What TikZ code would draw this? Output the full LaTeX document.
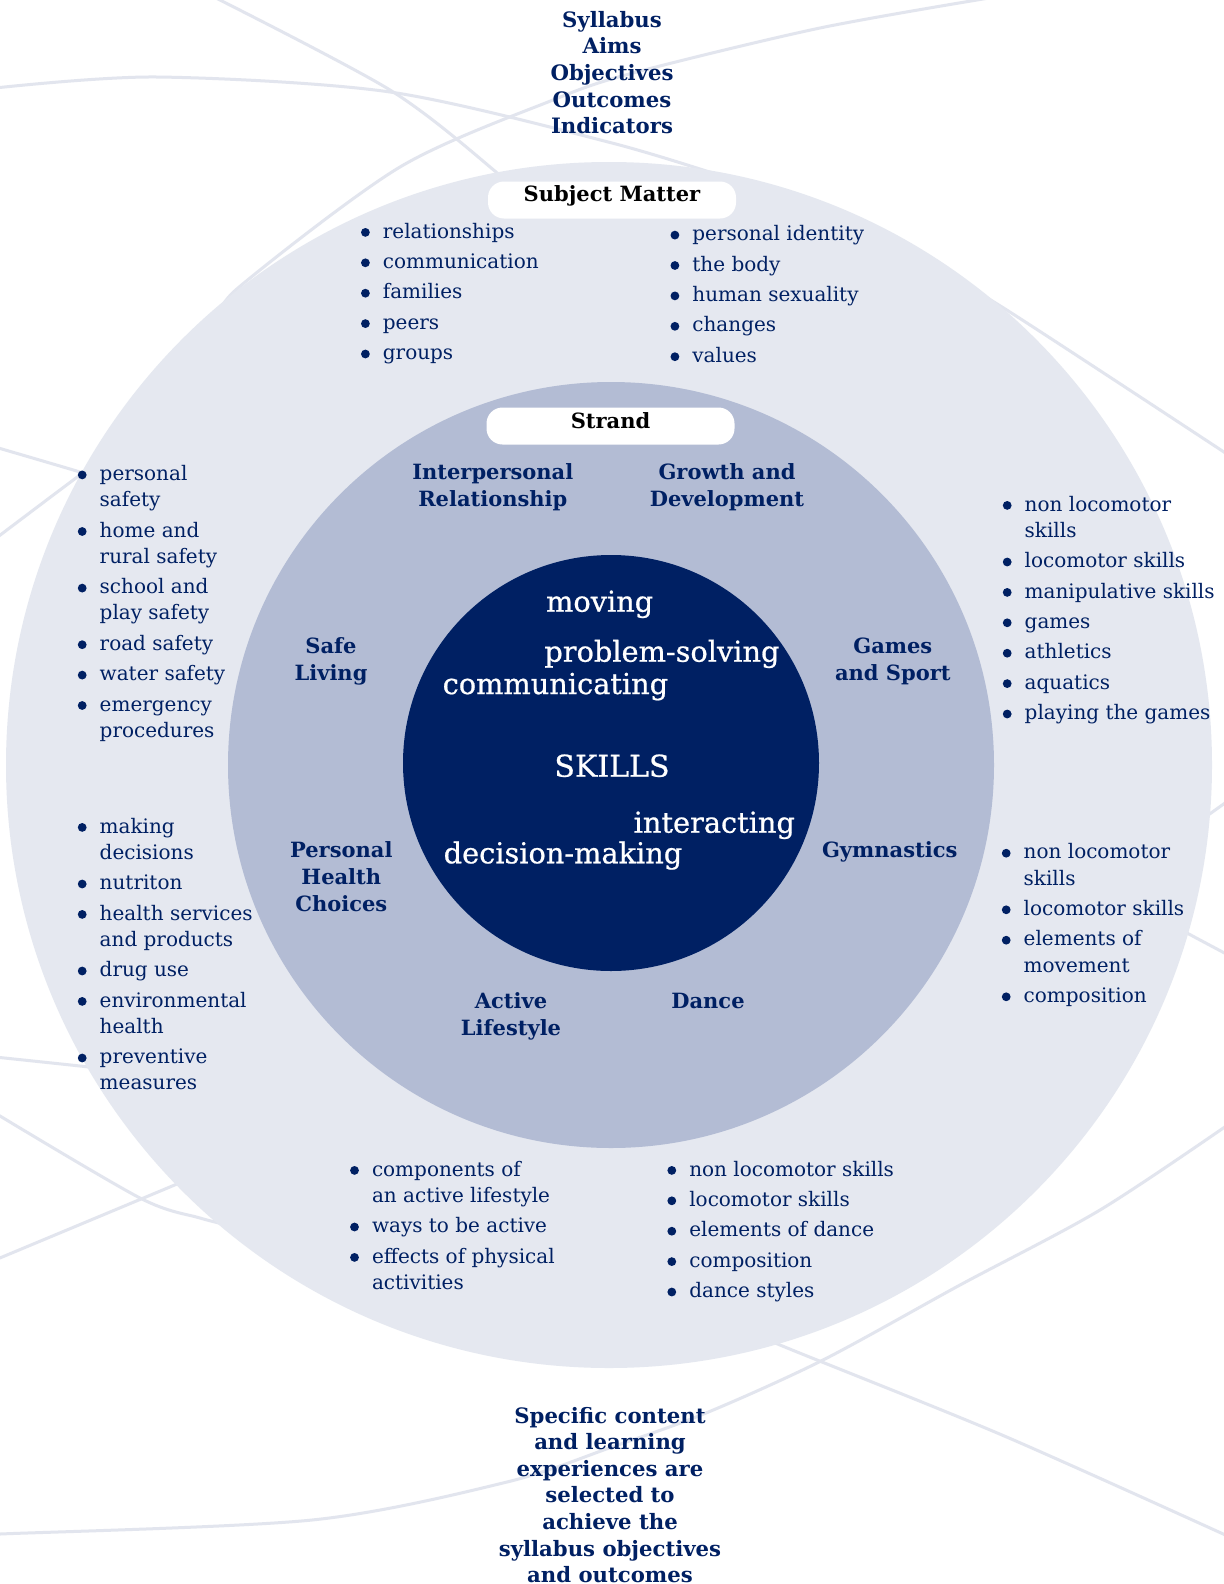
\documentclass[tikz,border=0pt]{standalone}
\usepackage{fontspec}
\setmainfont{DejaVu Serif}
\newfontfamily\skillfont[FakeBold=0.7]{DejaVu Serif}
\definecolor{navy}{RGB}{0,32,99}
\definecolor{ringout}{RGB}{229,232,240}
\definecolor{ringmid}{RGB}{179,188,212}
\definecolor{swirl}{RGB}{226,229,238}
\newcommand\bdot{\tikz[baseline=0pt]\fill (0pt,2.8pt) circle (2.2pt);}
\newcommand\bl{\makebox[0pt][r]{\makebox[0pt][c]{\bdot}\hspace{8.75pt}}}
\newcommand\lst[1]{\begin{tabular}[t]{@{}l@{}}#1\end{tabular}}
\newcommand\ctr[1]{\begin{tabular}[t]{@{}c@{}}#1\end{tabular}}
\tikzset{
  x=0.5pt, y=-0.5pt,
  swirlline/.style={draw=swirl, line width=1.5pt, line cap=round},
  itemlist/.style={anchor=base west, inner sep=0pt, text=navy, font=\fontsize{10}{13.1}\selectfont},
  strandlbl/.style={anchor=base, inner sep=0pt, text=navy, font=\bfseries\fontsize{10.5}{13.4}\selectfont},
  skilltxt/.style={anchor=base west, inner sep=0pt, text=white, font=\skillfont\fontsize{14.4}{16}\selectfont},
  pill/.style={fill=white, rounded corners=8pt, minimum width=124pt, minimum height=18.5pt, inner sep=0pt},
  pilltext/.style={anchor=base, inner sep=0pt, text=black, font=\bfseries\fontsize{10.5}{12}\selectfont},
  bluehead/.style={anchor=base, inner sep=0pt, text=navy, font=\bfseries\fontsize{10.6}{13.3}\selectfont}
}
\begin{document}
\begin{tikzpicture}
\path[use as bounding box] (0,0) rectangle (1224,1584);
\clip (0,0) rectangle (1224,1584);
\fill[white] (0,0) rectangle (1224,1584);

% background swirl curves
\draw[swirlline] plot[smooth] coordinates {(-5,88) (156,77) (390,92) (612,143) (740,182)};
\draw[swirlline] plot[smooth] coordinates {(950,280) (1002,307) (1230,456)};
\draw[swirlline] plot[smooth] coordinates {(210,-5) (390,90) (496,172) (540,215)};
\draw[swirlline] plot[smooth] coordinates {(222,318) (238,288) (400,167) (553,100) (633,73) (820,28) (995,-3)};
\draw[swirlline] plot[smooth] coordinates {(-5,447) (80,472) (110,482)};
\draw[swirlline] plot[smooth] coordinates {(-5,539) (80,475) (105,458)};
\draw[swirlline] plot[smooth] coordinates {(-5,1057) (80,1066) (115,1070)};
\draw[swirlline] plot[smooth] coordinates {(-5,1113) (140,1198) (200,1218) (240,1228)};
\draw[swirlline] plot[smooth] coordinates {(-5,1260) (177,1184) (200,1174)};
\draw[swirlline] plot[smooth] coordinates {(1232,1122) (1100,1210) (960,1285) (823,1360) (706,1413) (612,1447) (507,1482) (312,1520) (0,1534) (-5,1534)};
\draw[swirlline] plot[smooth] coordinates {(720,1318) (780,1345) (1002,1435) (1232,1538)};
\draw[swirlline] plot[smooth] coordinates {(1180,835) (1211,813) (1232,798)};
\draw[swirlline] plot[smooth] coordinates {(1160,918) (1187,933) (1232,957)};

% rings
\fill[ringout] (609,765) circle (301.5pt);
\fill[ringmid] (611,765) circle (191.5pt);
\fill[navy] (611,763) circle (104pt);

% header
\node[bluehead] (head) at (612,27.3) {\ctr{Syllabus\\Aims\\Objectives\\Outcomes\\Indicators}};

% pills
\node[pill] (subject) at (612,200) {};
\node[pilltext] (subjecttxt) at (612,201.7) {Subject Matter};
\node[pill] (strand) at (610.5,426) {};
\node[pilltext] (strandtxt) at (610.5,428) {Strand};

% subject matter lists
\node[itemlist] (smtl) at (382.5,238) {\lst{\bl relationships\\[2.1pt]\bl communication\\[2.1pt]\bl families\\[2.1pt]\bl peers\\[2.1pt]\bl groups}};
\node[itemlist] (smtr) at (692,240.7) {\lst{\bl personal identity\\[2.1pt]\bl the body\\[2.1pt]\bl human sexuality\\[2.1pt]\bl changes\\[2.1pt]\bl values}};
\node[itemlist] (sml1) at (99.3,480.5) {\lst{\bl personal\\safety\\[2.1pt]\bl home and\\rural safety\\[2.1pt]\bl school and\\play safety\\[2.1pt]\bl road safety\\[2.1pt]\bl water safety\\[2.1pt]\bl emergency\\procedures}};
\node[itemlist] (sml2) at (99.3,833) {\lst{\bl making\\decisions\\[2.1pt]\bl nutriton\\[2.1pt]\bl health services\\and products\\[2.1pt]\bl drug use\\[2.1pt]\bl environmental\\health\\[2.1pt]\bl preventive\\measures}};
\node[itemlist] (smr1) at (1024.3,511) {\lst{\bl non locomotor\\skills\\[2.1pt]\bl locomotor skills\\[2.1pt]\bl manipulative skills\\[2.1pt]\bl games\\[2.1pt]\bl athletics\\[2.1pt]\bl aquatics\\[2.1pt]\bl playing the games}};
\node[itemlist] (smr2) at (1023.3,858.8) {\lst{\bl non locomotor\\skills\\[2.1pt]\bl locomotor skills\\[2.1pt]\bl elements of\\movement\\[2.1pt]\bl composition}};
\node[itemlist] (smbl) at (371.6,1176) {\lst{\bl components of\\an active lifestyle\\[2.1pt]\bl ways to be active\\[2.1pt]\bl effects of physical\\activities}};
\node[itemlist] (smbr) at (688.9,1176) {\lst{\bl non locomotor skills\\[2.1pt]\bl locomotor skills\\[2.1pt]\bl elements of dance\\[2.1pt]\bl composition\\[2.1pt]\bl dance styles}};

% strands
\node[strandlbl] (s1) at (492.8,479.7) {\ctr{Interpersonal\\Relationship}};
\node[strandlbl] (s2) at (727,479.7) {\ctr{Growth and\\Development}};
\node[strandlbl] (s3) at (331,653.4) {\ctr{Safe\\Living}};
\node[strandlbl] (s4) at (892.8,653.4) {\ctr{Games\\and Sport}};
\node[strandlbl] (s5) at (341.3,857.4) {\ctr{Personal\\Health\\Choices}};
\node[strandlbl] (s6) at (889.7,857.4) {Gymnastics};
\node[strandlbl] (s7) at (511,1008.9) {\ctr{Active\\Lifestyle}};
\node[strandlbl] (s8) at (708,1008.9) {Dance};

% skills
\node[skilltxt] (k1) at (545.7,611.7) {moving};
\node[skilltxt] (k2) at (544,661.7) {problem-solving};
\node[skilltxt] (k3) at (442.3,694) {communicating};
\node[skilltxt, anchor=base, font=\skillfont\fontsize{15}{16}\selectfont] (k4) at (612,776.7) {SKILLS};
\node[skilltxt] (k5) at (633.3,832.7) {interacting};
\node[skilltxt] (k6) at (443.3,863.3) {decision-making};

% footer
\node[bluehead] (foot) at (610,1423) {\ctr{Specific content\\and learning\\experiences are\\selected to\\achieve the\\syllabus objectives\\and outcomes}};
\end{tikzpicture}
\end{document}
